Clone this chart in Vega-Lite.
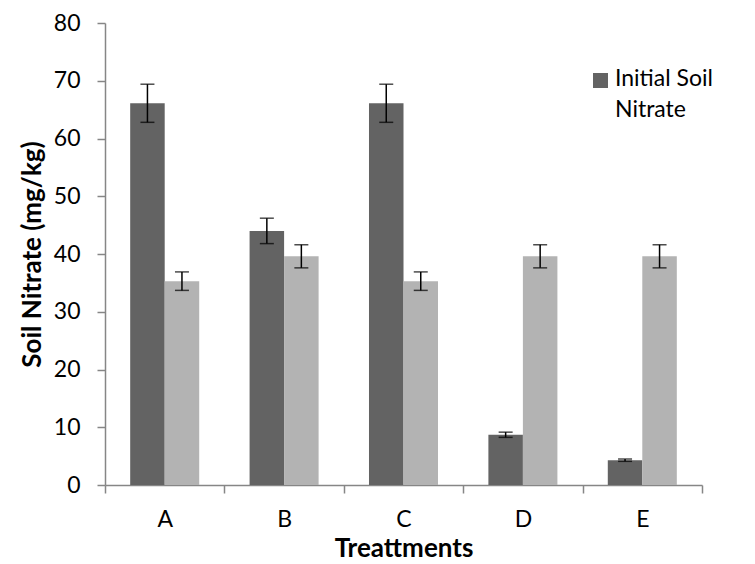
{
  "$schema": "https://vega.github.io/schema/vega-lite/v6.json",
  "width": 597,
  "height": 462,
  "autosize": {"type": "none"},
  "padding": {"left": 105, "top": 23, "right": 53, "bottom": 79},
  "config": {
    "view": {"stroke": null},
    "font": "Lato",
    "style": {"guide-label": {"lineHeight": 31}}
  },
  "data": {
    "values": [
      {"treatment": "A", "series": "Initial Soil Nitrate", "value": 66.1, "lo": 62.8, "hi": 69.4},
      {"treatment": "A", "series": "Final Soil Nitrate", "value": 35.3, "lo": 33.7, "hi": 36.9},
      {"treatment": "B", "series": "Initial Soil Nitrate", "value": 44.0, "lo": 41.8, "hi": 46.2},
      {"treatment": "B", "series": "Final Soil Nitrate", "value": 39.6, "lo": 37.6, "hi": 41.6},
      {"treatment": "C", "series": "Initial Soil Nitrate", "value": 66.1, "lo": 62.8, "hi": 69.4},
      {"treatment": "C", "series": "Final Soil Nitrate", "value": 35.3, "lo": 33.7, "hi": 36.9},
      {"treatment": "D", "series": "Initial Soil Nitrate", "value": 8.7, "lo": 8.25, "hi": 9.15},
      {"treatment": "D", "series": "Final Soil Nitrate", "value": 39.6, "lo": 37.6, "hi": 41.6},
      {"treatment": "E", "series": "Initial Soil Nitrate", "value": 4.3, "lo": 4.1, "hi": 4.5},
      {"treatment": "E", "series": "Final Soil Nitrate", "value": 39.6, "lo": 37.6, "hi": 41.6}
    ]
  },
  "encoding": {
    "x": {
      "field": "treatment",
      "type": "nominal",
      "scale": {"paddingInner": 0, "paddingOuter": 0},
      "axis": {
        "title": "Treattments",
        "titleFont": "Lato",
        "titleFontSize": 26,
        "titleFontWeight": "bold",
        "titleColor": "#000000",
        "titlePadding": 4,
        "labelFontSize": 23,
        "labelColor": "#000000",
        "labelAngle": 0,
        "labelPadding": 15,
        "tickBand": "extent",
        "tickSize": 8,
        "tickColor": "#868686",
        "domainColor": "#868686",
        "domainWidth": 1.5,
        "tickWidth": 1.5
      }
    },
    "xOffset": {
      "field": "series",
      "type": "nominal",
      "sort": ["Initial Soil Nitrate", "Final Soil Nitrate"],
      "scale": {"paddingOuter": 0.73, "paddingInner": 0}
    }
  },
  "layer": [
    {
      "mark": {"type": "bar"},
      "encoding": {
        "y": {
          "field": "value",
          "type": "quantitative",
          "scale": {"domain": [0, 80]},
          "axis": {
            "title": "Soil Nitrate (mg/kg)",
            "titleFontSize": 26,
            "titleFontWeight": "bold",
            "titleColor": "#000000",
            "titlePadding": 8,
            "values": [0, 10, 20, 30, 40, 50, 60, 70, 80],
            "grid": false,
            "labelFontSize": 23,
            "labelColor": "#000000",
            "labelPadding": 17,
            "tickSize": 8,
            "tickColor": "#868686",
            "domainColor": "#868686",
            "domainWidth": 1.5,
            "tickWidth": 1.5
          }
        },
        "color": {
          "field": "series",
          "type": "nominal",
          "scale": {"domain": ["Initial Soil Nitrate", "Final Soil Nitrate"], "range": ["#636363", "#b3b3b3"]},
          "legend": {
            "values": ["Initial Soil Nitrate"],
            "orient": "none",
            "legendX": 484,
            "legendY": 46,
            "title": null,
            "symbolType": "square",
            "symbolSize": 225,
            "symbolStrokeWidth": 0,
            "labelFontSize": 23,
            "labelColor": "#000000",
            "labelBaseline": "top",
            "labelOffset": 3,
            "labelExpr": "['Initial Soil', 'Nitrate']",
            "encode": {"labels": {"update": {"dy": {"value": -13}}}}
          }
        }
      }
    },
    {
      "mark": {"type": "rule", "color": "#000000", "strokeWidth": 1.5},
      "encoding": {
        "y": {"field": "lo", "type": "quantitative"},
        "y2": {"field": "hi"}
      }
    },
    {
      "mark": {"type": "tick", "color": "#000000", "thickness": 1.5, "size": 14, "orient": "horizontal"},
      "encoding": {"y": {"field": "lo", "type": "quantitative"}}
    },
    {
      "mark": {"type": "tick", "color": "#000000", "thickness": 1.5, "size": 14, "orient": "horizontal"},
      "encoding": {"y": {"field": "hi", "type": "quantitative"}}
    }
  ]
}
